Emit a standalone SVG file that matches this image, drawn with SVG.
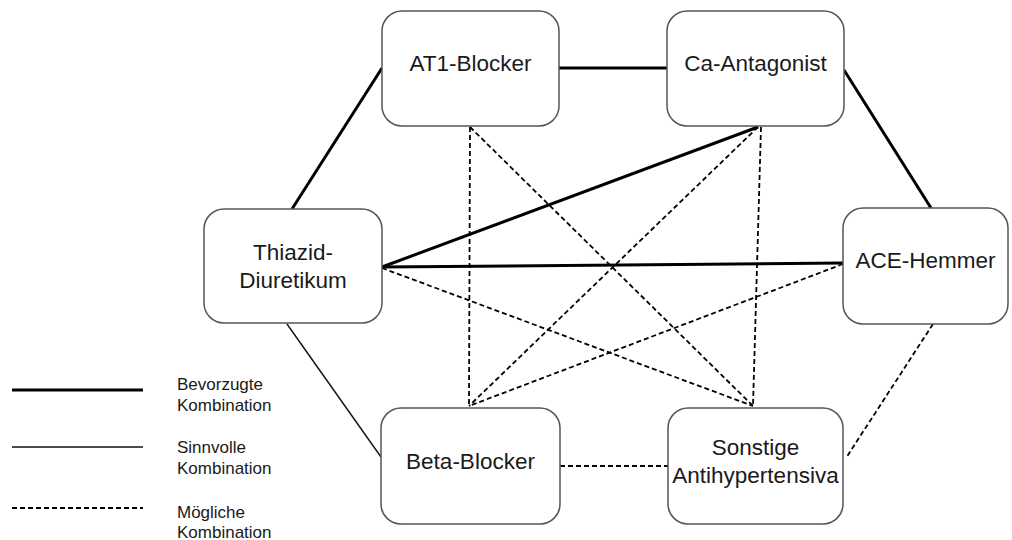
<svg xmlns="http://www.w3.org/2000/svg" width="1012" height="540" viewBox="0 0 1012 540">
<style>
.box{fill:#fff;stroke:#555;stroke-width:1.5}
.t{font-family:"Liberation Sans",Arial,sans-serif;font-size:22.5px;fill:#1a1a1a;text-anchor:middle}
.lg{font-family:"Liberation Sans",Arial,sans-serif;font-size:17px;fill:#1a1a1a}
.thick{stroke:#000;stroke-width:3;fill:none}
.thin{stroke:#111;stroke-width:1.4;fill:none}
.dash{stroke:#000;stroke-width:1.8;stroke-dasharray:5,3;fill:none}
</style>
<rect width="1012" height="540" fill="#fff"/>
<g id="connectors">
<line class="thick" x1="382" y1="68" x2="667" y2="68"/>
<line class="thick" x1="292" y1="209" x2="382" y2="68"/>
<line class="thick" x1="844" y1="70" x2="931" y2="208"/>
<line class="thin" x1="287" y1="324" x2="381" y2="457"/>
<line class="dash" x1="933" y1="324" x2="846" y2="458"/>
<line class="dash" x1="560" y1="466" x2="668" y2="466"/>
<line class="thick" x1="382" y1="267" x2="758" y2="127"/>
<line class="thick" x1="382" y1="267" x2="843" y2="263"/>
<line class="dash" x1="382" y1="268" x2="753" y2="406"/>
<line class="dash" x1="843" y1="264" x2="469" y2="406"/>
<line class="dash" x1="470" y1="127" x2="469" y2="406"/>
<line class="dash" x1="470" y1="127" x2="753" y2="406"/>
<line class="dash" x1="758" y1="127" x2="469" y2="406"/>
<line class="dash" x1="761" y1="127" x2="753" y2="406"/>
</g>
<g id="at1">
<rect class="box" x="382" y="11" width="177" height="115" rx="20"/>
<text class="t" x="470.5" y="71">AT1-Blocker</text>
</g>
<g id="ca">
<rect class="box" x="667" y="11" width="177" height="115" rx="20"/>
<text class="t" x="755.5" y="71">Ca-Antagonist</text>
</g>
<g id="thiazid">
<rect class="box" x="204" y="209" width="178" height="114" rx="20"/>
<text class="t" x="293" y="260">Thiazid-</text>
<text class="t" x="293" y="288">Diuretikum</text>
</g>
<g id="ace">
<rect class="box" x="843" y="208" width="165" height="116" rx="20"/>
<text class="t" x="925.5" y="268">ACE-Hemmer</text>
</g>
<g id="beta">
<rect class="box" x="381" y="408" width="179" height="116" rx="20"/>
<text class="t" x="470.5" y="469">Beta-Blocker</text>
</g>
<g id="sonstige">
<rect class="box" x="668" y="408" width="175" height="116" rx="20"/>
<text class="t" x="755.5" y="455">Sonstige</text>
<text class="t" x="755.5" y="483">Antihypertensiva</text>
</g>
<g id="legend">
<line class="thick" x1="12" y1="390" x2="143" y2="390"/>
<line class="thin" x1="12" y1="447" x2="143" y2="447"/>
<line class="dash" x1="12" y1="508" x2="143" y2="508"/>
<text class="lg" x="177" y="390">Bevorzugte</text>
<text class="lg" x="177" y="411">Kombination</text>
<text class="lg" x="177" y="453">Sinnvolle</text>
<text class="lg" x="177" y="474">Kombination</text>
<text class="lg" x="177" y="518">Mögliche</text>
<text class="lg" x="177" y="538">Kombination</text>
</g>
</svg>
